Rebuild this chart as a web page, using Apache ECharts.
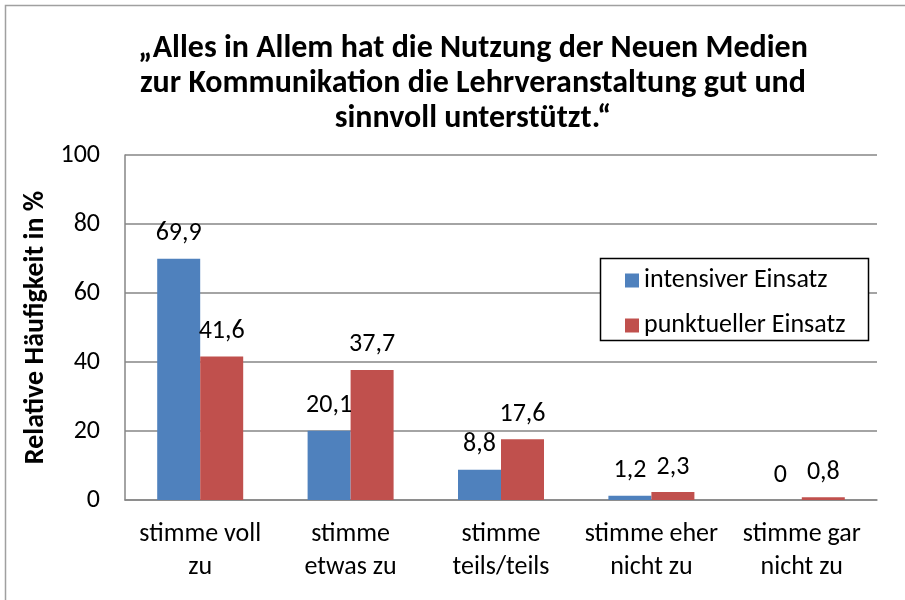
<!DOCTYPE html>
<html>
<head>
<meta charset="utf-8">
<script src="https://cdn.jsdelivr.net/npm/echarts@6/dist/echarts.min.js"></script>
<style>
  html, body { margin: 0; padding: 0; background: #fff; }
  #chart { width: 905px; height: 600px; }
</style>
</head>
<body>
<div id="chart"></div>
<script>
var categories = ['stimme voll\nzu', 'stimme\netwas zu', 'stimme\nteils/teils', 'stimme eher\nnicht zu', 'stimme gar\nnicht zu'];
var intensiv = [69.9, 20.1, 8.8, 1.2, 0];
var punktuell = [41.6, 37.7, 17.6, 2.3, 0.8];
var seriesNames = ['intensiver Einsatz', 'punktueller Einsatz'];

var font = 'Carlito, "Liberation Sans Narrow", "Open Sans", sans-serif';
var myChart = echarts.init(document.getElementById('chart'));

// Komma als Dezimaltrenner
function fmt(p) {
  return String(p.value).replace('.', ',');
}

var option = {
  animation: false,
  textStyle: { fontFamily: font },
  title: {
    text: '„Alles in Allem hat die Nutzung der Neuen Medien\nzur Kommunikation die Lehrveranstaltung gut und\nsinnvoll unterstützt.“',
    left: 468,
    textAlign: 'center',
    top: 26,
    textStyle: { fontFamily: font, fontSize: 32, fontWeight: 'bold', color: '#000', lineHeight: 35 }
  },
  graphic: [{
    type: 'rect',
    shape: { x: 5.5, y: 5.5, width: 920, height: 620 },
    style: { fill: 'none', stroke: '#a0a0a0', lineWidth: 1.5 }
  }, {
    type: 'rect',
    shape: { x: 600.5, y: 258.5, width: 268, height: 82 },
    style: { fill: '#fff', stroke: '#000', lineWidth: 1.5 },
    z: 5
  }],
  legend: {
    orient: 'vertical',
    left: 620,
    top: 262,
    itemGap: 18,
    itemWidth: 14,
    itemHeight: 14,
    icon: 'rect',
    z: 10,
    textStyle: { fontFamily: font, fontSize: 26, color: '#000', lineHeight: 27 },
    data: seriesNames
  },
  grid: { left: 125, right: 28, top: 155, bottom: 100 },
  xAxis: {
    type: 'category',
    data: categories,
    axisTick: { show: false },
    axisLine: { lineStyle: { color: '#868686', width: 1.5 } },
    axisLabel: { interval: 0, fontFamily: font, fontSize: 26, color: '#000', lineHeight: 33, margin: 18 }
  },
  yAxis: {
    type: 'value',
    min: 0,
    max: 100,
    interval: 20,
    name: 'Relative Häufigkeit in %',
    nameLocation: 'middle',
    nameGap: 74,
    nameTextStyle: { fontFamily: font, fontSize: 28, fontWeight: 'bold', color: '#000' },
    axisLine: { show: true, lineStyle: { color: '#868686', width: 1.5 } },
    axisTick: { show: false },
    splitLine: { lineStyle: { color: '#868686', width: 1.5 } },
    axisLabel: { fontFamily: font, fontSize: 26, color: '#000', margin: 25 }
  },
  series: [{
    name: seriesNames[0],
    type: 'bar',
    data: intensiv,
    barWidth: 43,
    barGap: '0%',
    itemStyle: { color: '#4F81BD' },
    label: { show: true, position: 'top', distance: 12, fontFamily: font, fontSize: 26, color: '#000', formatter: fmt }
  }, {
    name: seriesNames[1],
    type: 'bar',
    data: punktuell,
    barWidth: 43,
    barGap: '0%',
    itemStyle: { color: '#C0504D' },
    label: { show: true, position: 'top', distance: 12, fontFamily: font, fontSize: 26, color: '#000', formatter: fmt }
  }]
};

myChart.setOption(option);
</script>
</body>
</html>
